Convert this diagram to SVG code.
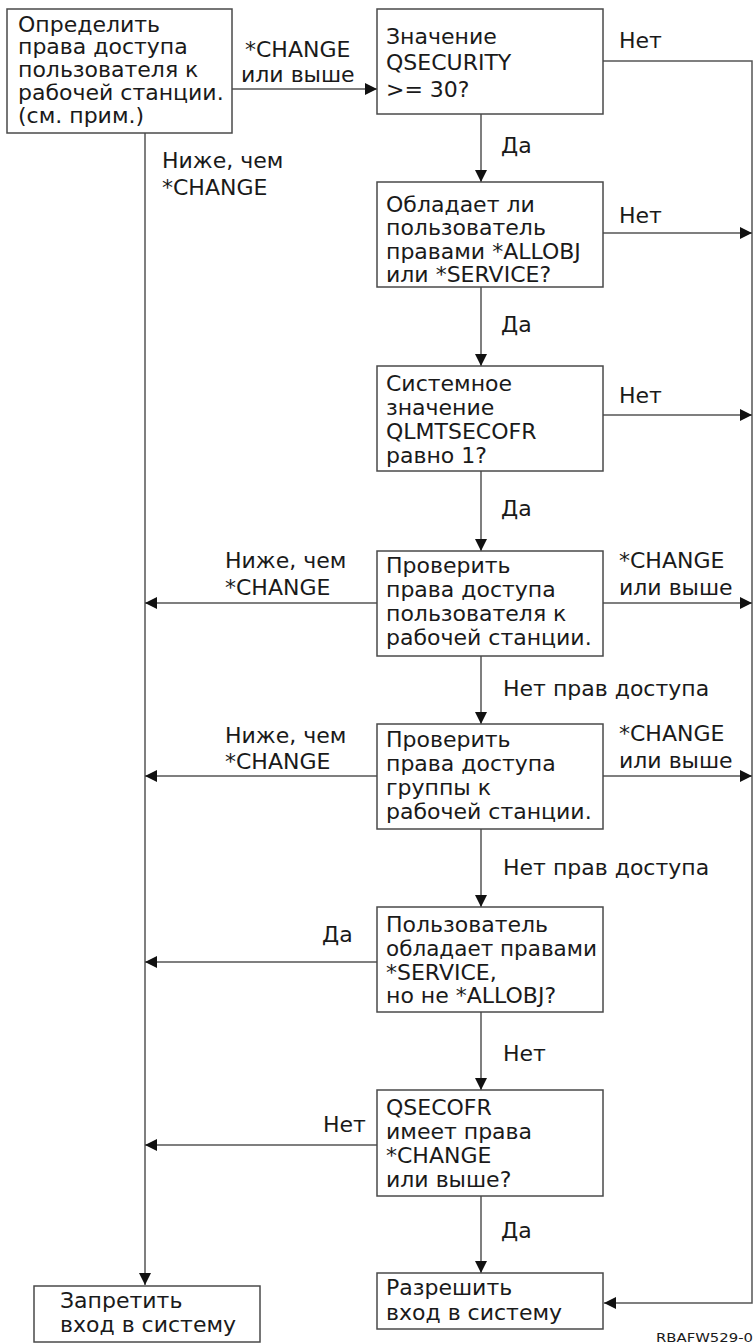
<svg xmlns="http://www.w3.org/2000/svg" width="755" height="1344" viewBox="0 0 755 1344">
  <style>
    .box { fill: #ffffff; stroke: #4a4a4a; stroke-width: 1.5; }
    .t { font-family: "DejaVu Sans", "Liberation Sans", sans-serif; font-size: 22px; fill: #1a1a1a; }
    .edge { fill: none; stroke: #555555; stroke-width: 1.5; }
    .arrow { marker-end: url(#head); }
    .code { font-family: "DejaVu Sans", "Liberation Sans", sans-serif; font-size: 13px; fill: #1a1a1a; }
  </style>
  <defs>
    <marker id="head" markerUnits="userSpaceOnUse" markerWidth="12" markerHeight="12" refX="12" refY="6" orient="auto">
      <path d="M0,0 L12,6 L0,12 z" fill="#111111"/>
    </marker>
  </defs>
  <rect width="755" height="1344" fill="#ffffff"/>

  <!-- connectors -->
  <g id="connectors">
    <path class="edge arrow" d="M232,89 H377"/>
    <path class="edge arrow" d="M145,133 V1285"/>
    <path class="edge arrow" d="M603,61 H752 V1303 H604"/>
    <path class="edge arrow" d="M481,114 V182"/>
    <path class="edge arrow" d="M603,233 H752"/>
    <path class="edge arrow" d="M481,287 V366"/>
    <path class="edge arrow" d="M603,415 H752"/>
    <path class="edge arrow" d="M481,471 V551"/>
    <path class="edge arrow" d="M377,603 H145"/>
    <path class="edge arrow" d="M603,603 H752"/>
    <path class="edge arrow" d="M481,656 V724"/>
    <path class="edge arrow" d="M377,776 H145"/>
    <path class="edge arrow" d="M603,776 H752"/>
    <path class="edge arrow" d="M481,829 V907"/>
    <path class="edge arrow" d="M377,962 H145"/>
    <path class="edge arrow" d="M481,1012 V1090"/>
    <path class="edge arrow" d="M377,1145 H145"/>
    <path class="edge arrow" d="M481,1196 V1273"/>

    <!-- edge labels -->
    <text class="t" x="245" y="57">*CHANGE</text>
    <text class="t" x="241" y="82">или выше</text>
    <text class="t" x="162" y="168">Ниже, чем</text>
    <text class="t" x="162" y="195">*CHANGE</text>
    <text class="t" x="619" y="48">Нет</text>
    <text class="t" x="501" y="153">Да</text>
    <text class="t" x="619" y="223">Нет</text>
    <text class="t" x="501" y="332">Да</text>
    <text class="t" x="619" y="403">Нет</text>
    <text class="t" x="501" y="516">Да</text>
    <text class="t" x="225" y="568">Ниже, чем</text>
    <text class="t" x="225" y="595">*CHANGE</text>
    <text class="t" x="619" y="568">*CHANGE</text>
    <text class="t" x="619" y="595">или выше</text>
    <text class="t" x="503" y="696">Нет прав доступа</text>
    <text class="t" x="225" y="743">Ниже, чем</text>
    <text class="t" x="225" y="769">*CHANGE</text>
    <text class="t" x="619" y="741">*CHANGE</text>
    <text class="t" x="619" y="768">или выше</text>
    <text class="t" x="503" y="875">Нет прав доступа</text>
    <text class="t" x="322" y="942">Да</text>
    <text class="t" x="503" y="1061">Нет</text>
    <text class="t" x="323" y="1132">Нет</text>
    <text class="t" x="501" y="1238">Да</text>
  </g>

  <!-- nodes -->
  <g id="determine-access">
    <rect class="box" x="7" y="9" width="225" height="124"/>
    <text class="t" x="18" y="31.5">Определить</text>
    <text class="t" x="18" y="54.3">права доступа</text>
    <text class="t" x="18" y="77.1">пользователя к</text>
    <text class="t" x="18" y="99.9">рабочей станции.</text>
    <text class="t" x="18" y="122.7">(см. прим.)</text>
  </g>

  <g id="qsecurity">
    <rect class="box" x="377" y="9" width="226" height="105"/>
    <text class="t" x="386" y="43.5">Значение</text>
    <text class="t" x="386" y="70">QSECURITY</text>
    <text class="t" x="386" y="96.7">&gt;= 30?</text>
  </g>

  <g id="allobj-service">
    <rect class="box" x="377" y="182" width="226" height="105"/>
    <text class="t" x="386" y="211.7">Обладает ли</text>
    <text class="t" x="386" y="235">пользователь</text>
    <text class="t" x="386" y="258.5">правами *ALLOBJ</text>
    <text class="t" x="386" y="282">или *SERVICE?</text>
  </g>

  <g id="qlmtsecofr">
    <rect class="box" x="377" y="366" width="226" height="105"/>
    <text class="t" x="386" y="391">Системное</text>
    <text class="t" x="386" y="415">значение</text>
    <text class="t" x="386" y="439">QLMTSECOFR</text>
    <text class="t" x="386" y="463">равно 1?</text>
  </g>

  <g id="check-user">
    <rect class="box" x="377" y="551" width="226" height="105"/>
    <text class="t" x="386" y="573">Проверить</text>
    <text class="t" x="386" y="597">права доступа</text>
    <text class="t" x="386" y="621">пользователя к</text>
    <text class="t" x="386" y="645">рабочей станции.</text>
  </g>

  <g id="check-group">
    <rect class="box" x="377" y="724" width="226" height="105"/>
    <text class="t" x="386" y="747">Проверить</text>
    <text class="t" x="386" y="771">права доступа</text>
    <text class="t" x="386" y="795">группы к</text>
    <text class="t" x="386" y="819">рабочей станции.</text>
  </g>

  <g id="service-not-allobj">
    <rect class="box" x="377" y="907" width="226" height="105"/>
    <text class="t" x="386" y="932">Пользователь</text>
    <text class="t" x="386" y="956" textLength="211" lengthAdjust="spacingAndGlyphs">обладает правами</text>
    <text class="t" x="386" y="980">*SERVICE,</text>
    <text class="t" x="386" y="1003">но не *ALLOBJ?</text>
  </g>

  <g id="qsecofr-change">
    <rect class="box" x="377" y="1090" width="226" height="106"/>
    <text class="t" x="386" y="1115">QSECOFR</text>
    <text class="t" x="386" y="1139">имеет права</text>
    <text class="t" x="386" y="1163">*CHANGE</text>
    <text class="t" x="386" y="1187">или выше?</text>
  </g>

  <g id="allow-signon">
    <rect class="box" x="377" y="1273" width="226" height="56"/>
    <text class="t" x="386" y="1295">Разрешить</text>
    <text class="t" x="386" y="1320">вход в систему</text>
  </g>

  <g id="deny-signon">
    <rect class="box" x="34" y="1286" width="226" height="56"/>
    <text class="t" x="60" y="1308">Запретить</text>
    <text class="t" x="60" y="1332">вход в систему</text>
  </g>

  <text class="code" x="656" y="1342" textLength="97" lengthAdjust="spacingAndGlyphs">RBAFW529-0</text>
</svg>
